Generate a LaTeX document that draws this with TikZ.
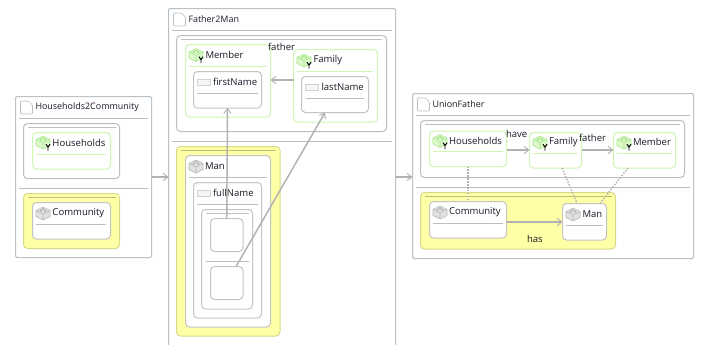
\documentclass[tikz,border=0pt]{standalone}
\usepackage{fontspec}
\setmainfont{Open Sans}
\usetikzlibrary{arrows.meta}
\definecolor{outerc}{HTML}{B9C1C9}
\definecolor{innerc}{HTML}{BEBEBE}
\definecolor{nodec}{HTML}{C4C4C4}
\definecolor{greenc}{HTML}{CFF7B4}
\definecolor{yellowf}{HTML}{FFFFA6}
\definecolor{yellowd}{HTML}{D9D98E}
\definecolor{yellowr}{HTML}{BDBD7A}
\definecolor{arrowc}{HTML}{B2B2B2}
\definecolor{txtc}{HTML}{1E1828}
\definecolor{brickgf}{HTML}{DDF9CA}
\definecolor{brickgd}{HTML}{A9E58A}
\definecolor{brickyf}{HTML}{E2E2E2}
\definecolor{brickyd}{HTML}{B5B5B5}
\tikzset{
  x=0.75pt,y=-0.75pt,
  every node/.style={inner sep=0pt,outer sep=0pt},
  rulegrey/.style={draw=innerc,line width=0.6pt},
  rulegreen/.style={draw=greenc,line width=0.6pt},
  ruleyellow/.style={draw=yellowr,line width=0.6pt},
  rule outer/.style={draw=innerc,line width=0.7pt},
  outerbox/.style={draw=outerc,fill=white,line width=0.75pt,rounded corners=1pt},
  groupbox/.style={draw=innerc,fill=white,line width=0.75pt,rounded corners=3pt},
  yellowbox/.style={draw=yellowd,fill=yellowf,line width=0.75pt,rounded corners=3pt},
  classbox/.style={draw=nodec,fill=white,line width=0.75pt,rounded corners=3pt},
  greenbox/.style={draw=greenc,fill=white,line width=0.75pt,rounded corners=3pt},
  lab/.style={anchor=west,text=txtc,font=\fontsize{7.15pt}{8pt}\selectfont},
  titlelab/.style={anchor=west,text=txtc,font=\fontsize{6.7pt}{8pt}\selectfont},
  conn/.style={draw=arrowc,line width=1.1pt,-{Straight Barb[length=3.5pt,width=5.5pt,line width=0.7pt]}},
  trace/.style={draw=arrowc,line width=1.1pt,dash pattern=on 1.1pt off 1.1pt},
}
% name, style, x1, y1, x2, y2
\newcommand{\bx}[6]{\node[#2,anchor=north west,minimum width={(#5-#3)*0.75pt},minimum height={(#6-#4)*0.75pt}] (#1) at (#3,#4) {};}
\newcommand{\pageicon}[2]{\begin{scope}[shift={(#1,#2)}]
  \draw[draw=innerc,fill=white,line width=0.5pt,rounded corners=0.8pt] (0,0)--(8,0)--(12,4)--(12,13)--(0,13)--cycle;
  \end{scope}}
\newcommand{\brick}[4]{\begin{scope}[shift={(#1,#2)}]
  \draw[draw=#4,fill=#3,line width=0.4pt,line join=round] (-7,-2.5)--(0,-6)--(7,-2.5)--(7,3.5)--(0,7)--(-7,3.5)--cycle;
  \draw[draw=#4,line width=0.4pt] (-7,-2.5)--(0,1)--(7,-2.5) (0,1)--(0,7);
  \fill[#4] (-2.2,-2.4) circle (1.4) (2.2,-2.4) circle (1.4) (0,-4) circle (1.2);
  \end{scope}}
\newcommand{\gbrick}[2]{\brick{#1}{#2}{brickgf}{brickgd}%
  \begin{scope}[shift={(#1,#2)}]
  \draw[black,line width=0.7pt] (3,2.2)--(5,5.2)--(7,2.2) (5,5.2)--(5,8.5);
  \end{scope}}
\newcommand{\ybrick}[2]{\brick{#1}{#2}{brickyf}{brickyd}}
\newcommand{\attr}[2]{\draw[draw=black!18,fill=black!4,line width=0.5pt] (#1,#2) rectangle ++(13,6);}
\begin{document}
\begin{tikzpicture}
\useasboundingbox (0,0) rectangle (701,344);
\clip (0,0) rectangle (701,344);
\fill[white] (0,0) rectangle (701,344);

\coordinate (y177) at (0,177);
\coordinate (y80) at (0,80);
\coordinate (y150) at (0,150);
\coordinate (y222) at (0,222);

% Box A
\bx{A}{outerbox}{15.5}{96.5}{151.5}{257.5}
\draw[rule outer] (19,118.5)--(148,118.5) (19,188.5)--(148,188.5);
\pageicon{20.5}{101}
\node[titlelab] (Atitle) at (35.5,107.5) {Households2Community};
\bx{Ag}{groupbox}{23.5}{123.5}{119.5}{178.5}
\draw[rulegrey] (28,127.5)--(116,127.5);
\bx{Ah}{greenbox}{32.5}{132.5}{110.5}{169}
\draw[rulegreen] (36,154.5)--(106,154.5);
\gbrick{43}{142}
\node[lab] (Ahl) at (52.5,143) {Households};
\bx{Ay}{yellowbox}{23.5}{193.5}{119.5}{248.5}
\draw[ruleyellow] (28,197.5)--(116,197.5);
\bx{Ac}{classbox}{32.5}{202.5}{110.5}{239}
\draw[rulegrey] (36,224.5)--(106,224.5);
\ybrick{43}{213}
\node[lab] (Acl) at (52.5,213) {Community};

% Box B
\bx{B}{outerbox}{168.5}{8.5}{395.5}{370}
\draw[rule outer] (172,30.5)--(392,30.5) (172,141.5)--(392,141.5);
\pageicon{173.5}{13}
\node[titlelab] (Btitle) at (188.5,19) {Father2Man};
\bx{Bg}{groupbox}{176.5}{35.5}{386.5}{131.5}
\draw[rulegrey] (181,39.5)--(382,39.5);
\bx{Bm}{greenbox}{185.5}{44.5}{270.5}{117}
\draw[rulegreen] (189,66.5)--(267,66.5);
\gbrick{196}{54.5}
\node[lab] (Bml) at (205.5,55) {Member};
\bx{Bfn}{classbox}{193.5}{71.5}{261.5}{108}
\draw[rulegrey] (197,93.5)--(258,93.5);
\attr{197.5}{79}
\node[lab] (Bfnl) at (213,82) {firstName};
\bx{Bf}{greenbox}{293.5}{49.5}{377.5}{122}
\draw[rulegreen] (297,71.5)--(373,71.5);
\gbrick{304}{60}
\node[lab] (Bfl) at (313.5,60.5) {Family};
\bx{Bln}{classbox}{301.5}{76.5}{368.5}{112.5}
\draw[rulegrey] (305.5,98.5)--(364,98.5);
\attr{305.5}{84}
\node[lab] (Blnl) at (321.5,87) {lastName};
\bx{By}{yellowbox}{176.5}{146.5}{280}{336}
\draw[ruleyellow] (181,150.5)--(276,150.5);
\bx{Bman}{classbox}{185.5}{155.5}{270.5}{327}
\draw[rulegrey] (189,177.5)--(267,177.5);
\ybrick{196}{166}
\node[lab] (Bmanl) at (205,166) {Man};
\bx{Bfull}{classbox}{193.5}{182.5}{261.5}{318}
\draw[rulegrey] (197,204.5)--(258,204.5);
\attr{197.5}{190}
\node[lab] (Bfulll) at (213,193) {fullName};
\bx{Bin}{classbox}{201.5}{209.5}{252.5}{309}
\draw[rulegrey] (206,213.5)--(249,213.5) (206,261.5)--(249,261.5);
\bx{Bs1}{classbox}{210.5}{218.5}{243}{251.5}
\bx{Bs2}{classbox}{210.5}{266.5}{243}{299.5}

% Box C
\bx{C}{outerbox}{412.5}{93.5}{693.5}{258.5}
\draw[rule outer] (416,115.5)--(690,115.5) (416,187.5)--(690,187.5);
\pageicon{417.5}{98}
\node[titlelab] (Ctitle) at (432.5,104) {UnionFather};
\bx{Cg}{groupbox}{420.5}{120.5}{684.5}{177.5}
\draw[rulegrey] (425,124.5)--(680,124.5);
\bx{Ch}{greenbox}{429.5}{131}{506.5}{166.5}
\draw[rulegreen] (433,151.5)--(503,151.5);
\gbrick{440}{140.5}
\node[lab] (Chl) at (449,140.5) {Households};
\bx{Cf}{greenbox}{529.5}{132.5}{581.5}{168}
\draw[rulegreen] (533,153.5)--(578,153.5);
\gbrick{540}{142}
\node[lab] (Cfl) at (549,142) {Family};
\bx{Cm}{greenbox}{613.5}{132.5}{675.5}{168}
\draw[rulegreen] (617,153.5)--(672,153.5);
\gbrick{624}{142}
\node[lab] (Cml) at (633,142) {Member};
\bx{Cy}{yellowbox}{420.5}{192.5}{615.5}{249}
\draw[ruleyellow] (425,196.5)--(612,196.5);
\bx{Cc}{classbox}{429.5}{201.5}{506.5}{238}
\draw[rulegrey] (433,223.5)--(503,223.5);
\ybrick{440}{212}
\node[lab] (Ccl) at (449,212) {Community};
\bx{Cman}{classbox}{562.5}{203.5}{606.5}{240}
\draw[rulegrey] (566,225.5)--(603,225.5);
\ybrick{573}{214}
\node[lab] (Cmanl) at (582.5,214) {Man};

% connectors
\draw[conn] (A.east|-y177) -- (B.west|-y177);
\draw[conn] (B.east|-y177) -- (C.west|-y177);
\draw[conn] (Bf.west|-y80) -- (Bm.east|-y80);
\draw[conn] (Bs1.north) -- (Bfn.south);
\draw[conn] ([xshift=7pt]Bs2.north) -- ([xshift=-7.5pt]Bln.south);
\draw[conn] (Ch.east|-y150) -- (Cf.west|-y150);
\draw[conn] (Cf.east|-y150) -- (Cm.west|-y150);
\draw[conn] (Cc.east|-y222) -- (Cman.west|-y222);
\draw[trace] (Ch.south) -- (Cc.north);
\draw[trace] ([xshift=4.9pt]Cf.south) -- ([xshift=-5.6pt]Cman.north);
\draw[trace] ([xshift=-12.4pt]Cm.south) -- ([xshift=11.6pt]Cman.north);

% connector labels
\node[lab] (lfather) at (268,47) {father};
\node[lab] (lhave) at (506,134) {have};
\node[lab] (lfather2) at (579,138) {father};
\node[lab] (lhas) at (527,239) {has};
\end{tikzpicture}
\end{document}
